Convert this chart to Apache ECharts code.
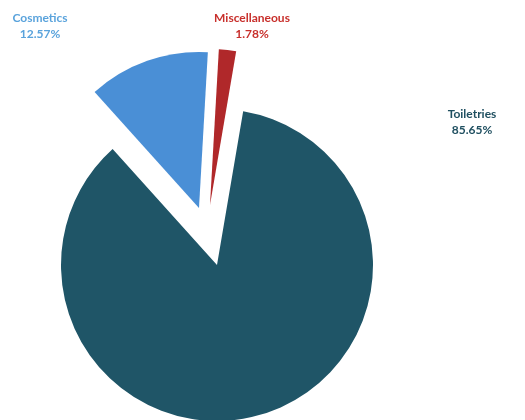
<!DOCTYPE html>
<html>
<head>
<meta charset="utf-8">
<script src="https://cdn.jsdelivr.net/npm/echarts@6/dist/echarts.min.js"></script>
<style>
html,body{margin:0;padding:0;background:#fff;}
#chart{width:525px;height:420px;}
</style>
</head>
<body>
<div id="chart"></div>
<script>
var categories = ['Cosmetics', 'Miscellaneous', 'Toiletries'];
var shares = [12.57, 1.78, 85.65];
var sliceColors = ['#4a8fd6', '#b0282a', '#1f5567'];
var labelColors = ['#5aa3dc', '#c8302c', '#1f4f60'];

// layout (not data): pie center per slice (exploded slices drawn with shifted centers)
var sliceCenters = [[199, 208], [210, 205], [217, 265]];
var labelPos = [[40, 26], [252, 26], [472, 122]];

function buildData(visibleIdx) {
  return categories.map(function (c, i) {
    var show = i === visibleIdx;
    return {
      name: c,
      value: shares[i],
      itemStyle: { color: show ? sliceColors[i] : 'rgba(0,0,0,0)' },
      label: { show: show, color: labelColors[i] }
    };
  });
}

var series = categories.map(function (c, idx) {
  return {
    type: 'pie',
    center: sliceCenters[idx],
    radius: [0, 156],
    startAngle: 132,
    clockwise: true,
    silent: true,
    avoidLabelOverlap: false,
    z: idx === 2 ? 1 : 2,
    label: {
      show: true,
      position: 'outside',
      formatter: '{b}\n{d}%',
      fontFamily: 'Lato',
      fontWeight: 'bold',
      fontSize: 12,
      lineHeight: 16,
      align: 'center'
    },
    labelLine: { show: false },
    labelLayout: function (p) {
      var pos = labelPos[p.dataIndex];
      return { x: pos[0], y: pos[1], align: 'center', verticalAlign: 'middle' };
    },
    emphasis: { disabled: true },
    data: buildData(idx)
  };
});

var chart = echarts.init(document.getElementById('chart'), null, { renderer: 'canvas' });
chart.setOption({
  backgroundColor: '#ffffff',
  animation: false,
  series: series
});
</script>
</body>
</html>
